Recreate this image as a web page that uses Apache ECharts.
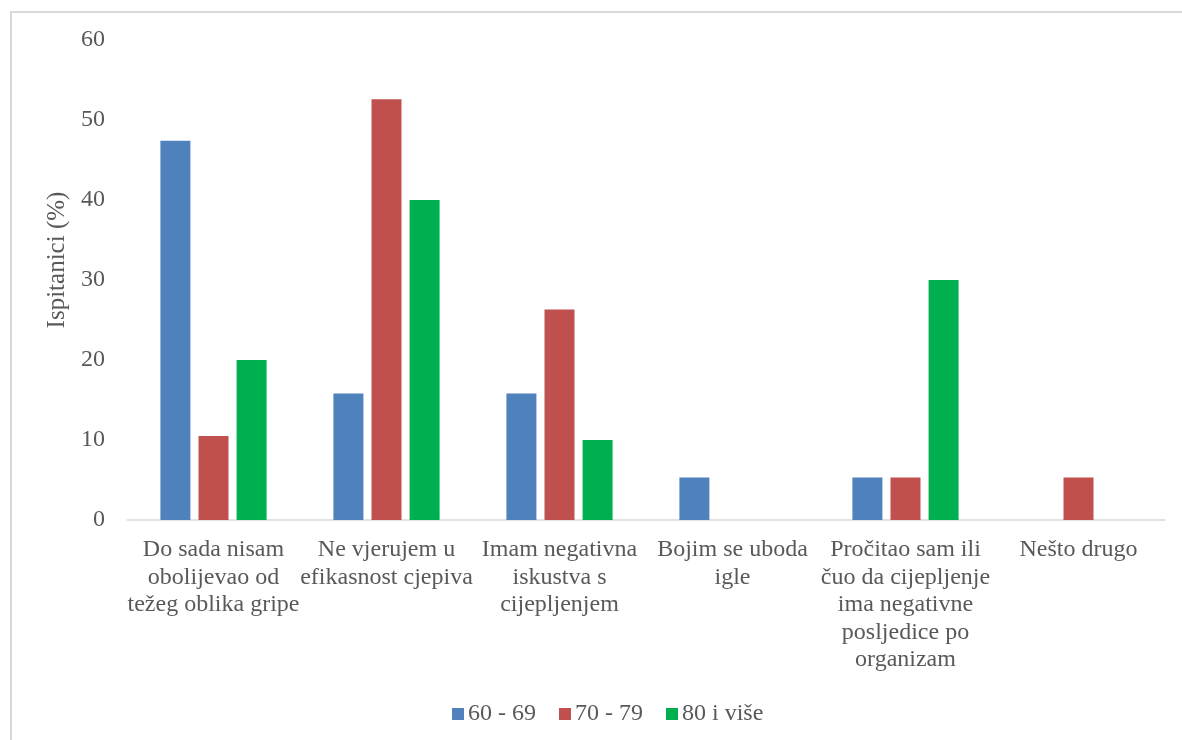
<!DOCTYPE html>
<html>
<head>
<meta charset="utf-8">
<script src="https://cdn.jsdelivr.net/npm/echarts@6/dist/echarts.min.js"></script>
<style>
html,body{margin:0;padding:0;background:#fff;}
#frame{position:absolute;left:10px;top:11px;width:1200px;height:760px;border:2px solid #d9d9d9;box-sizing:border-box;}
#chart{position:absolute;left:0;top:0;width:1182px;height:740px;}
</style>
</head>
<body>
<div id="frame"></div>
<div id="chart"></div>
<script>
const categories = [
  'Do sada nisam\nobolijevao od\ntežeg oblika gripe',
  'Ne vjerujem u\nefikasnost cjepiva',
  'Imam negativna\niskustva s\ncijepljenjem',
  'Bojim se uboda\nigle',
  'Pročitao sam ili\nčuo da cijepljenje\nima negativne\nposljedice po\norganizam',
  'Nešto drugo'
];
const seriesNames = ['60 - 69', '70 - 79', '80 i više'];
const s60 = [47.4, 15.8, 15.8, 5.3, 5.3, 0];
const s70 = [10.5, 52.6, 26.3, 0, 5.3, 5.3];
const s80 = [20, 40, 10, 0, 30, 0];
const yTicks = {min: 0, max: 60, interval: 10};
const colors = ['#4F81BD', '#C0504D', '#00B050'];

const chart = echarts.init(document.getElementById('chart'));
const font = 'Liberation Serif, Times New Roman, serif';
const txt = '#595959';
const mk = (name, data, i) => ({
  name, type: 'bar', data, barWidth: 30, barGap: '27%',
  itemStyle: {color: colors[i]}
});
chart.setOption({
  animation: false,
  color: colors,
  textStyle: {fontFamily: font},
  grid: {left: 127, right: 17, top: 40, bottom: 220},
  legend: {
    bottom: 9, left: 447,
    itemWidth: 12, itemHeight: 12, itemGap: 23, icon: 'rect',
    textStyle: {fontFamily: font, fontSize: 24, color: txt, padding: [0, 0, 0, -1]},
    data: seriesNames
  },
  xAxis: {
    type: 'category', data: categories,
    axisLine: {lineStyle: {color: '#d9d9d9', width: 1.5}},
    axisTick: {show: false},
    axisLabel: {interval: 0, fontFamily: font, fontSize: 24, color: txt, lineHeight: 27.5, margin: 16}
  },
  yAxis: {
    type: 'value', min: yTicks.min, max: yTicks.max, interval: yTicks.interval,
    name: 'Ispitanici (%)', nameLocation: 'middle', nameGap: 47, nameRotate: 90,
    nameTextStyle: {fontFamily: font, fontSize: 25, color: txt, padding: [0, 0, 0, 40]},
    axisLine: {show: false}, axisTick: {show: false}, splitLine: {show: false},
    axisLabel: {fontFamily: font, fontSize: 24, color: txt, margin: 22}
  },
  series: [mk(seriesNames[0], s60, 0), mk(seriesNames[1], s70, 1), mk(seriesNames[2], s80, 2)]
});
</script>
</body>
</html>
